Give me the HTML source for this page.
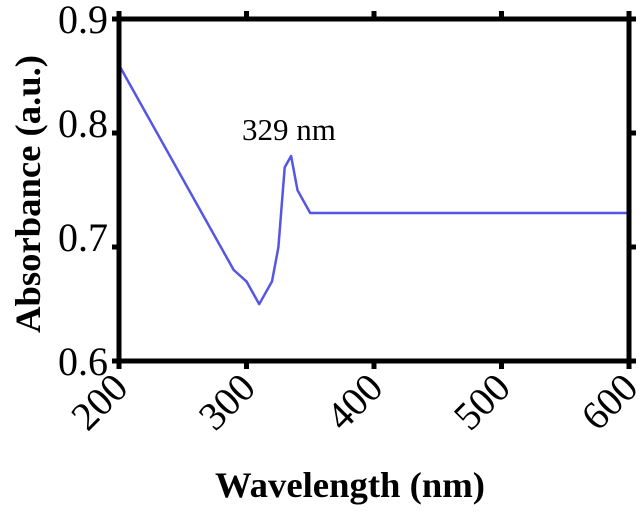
<!DOCTYPE html>
<html><head><style>body{margin:0;background:#fff}</style></head><body>
<svg width="644" height="511" xmlns="http://www.w3.org/2000/svg" font-family="Liberation Serif, serif">
<rect width="644" height="511" fill="#fff"/>
<polyline fill="none" stroke="#5555e6" stroke-width="2.5" stroke-linejoin="round"
points="119,65 233.7,270 246.5,281.4 259.2,304.2 272,281.4 278.4,247.2 284.7,167.4 291.1,156 297.5,190.2 310.2,213 629,213"/>
<g stroke="#000" stroke-width="5" fill="none">
<rect x="119" y="19" width="510" height="342"/>
<line x1="112" y1="19" x2="119" y2="19"/><line x1="112" y1="133" x2="119" y2="133"/><line x1="112" y1="247" x2="119" y2="247"/><line x1="112" y1="361" x2="119" y2="361"/>
<line x1="629" y1="19" x2="636" y2="19"/><line x1="629" y1="133" x2="636" y2="133"/><line x1="629" y1="247" x2="636" y2="247"/><line x1="629" y1="361" x2="636" y2="361"/>
<line x1="119" y1="361" x2="119" y2="369"/><line x1="246.5" y1="361" x2="246.5" y2="369"/><line x1="374" y1="361" x2="374" y2="369"/><line x1="501.5" y1="361" x2="501.5" y2="369"/><line x1="629" y1="361" x2="629" y2="369"/>
<line x1="119" y1="11" x2="119" y2="19"/><line x1="246.5" y1="11" x2="246.5" y2="19"/><line x1="374" y1="11" x2="374" y2="19"/><line x1="501.5" y1="11" x2="501.5" y2="19"/><line x1="629" y1="11" x2="629" y2="19"/>
</g>
<g font-size="40" text-anchor="end">
<text x="108" y="33">0.9</text><text x="108" y="137">0.8</text><text x="108" y="251">0.7</text><text x="108" y="375">0.6</text>
</g>
<g font-size="40" text-anchor="end">
<text transform="translate(130,390) rotate(-45)">200</text>
<text transform="translate(257.5,390) rotate(-45)">300</text>
<text transform="translate(385,390) rotate(-45)">400</text>
<text transform="translate(512.5,390) rotate(-45)">500</text>
<text transform="translate(640,390) rotate(-45)">600</text>
</g>
<text x="242" y="140" font-size="31">329 nm</text>
<text x="215" y="497" font-size="36" font-weight="bold" textLength="270" lengthAdjust="spacingAndGlyphs">Wavelength (nm)</text>
<text transform="translate(40,333) rotate(-90)" font-size="36" font-weight="bold" textLength="278" lengthAdjust="spacingAndGlyphs">Absorbance (a.u.)</text>
</svg>
</body></html>
